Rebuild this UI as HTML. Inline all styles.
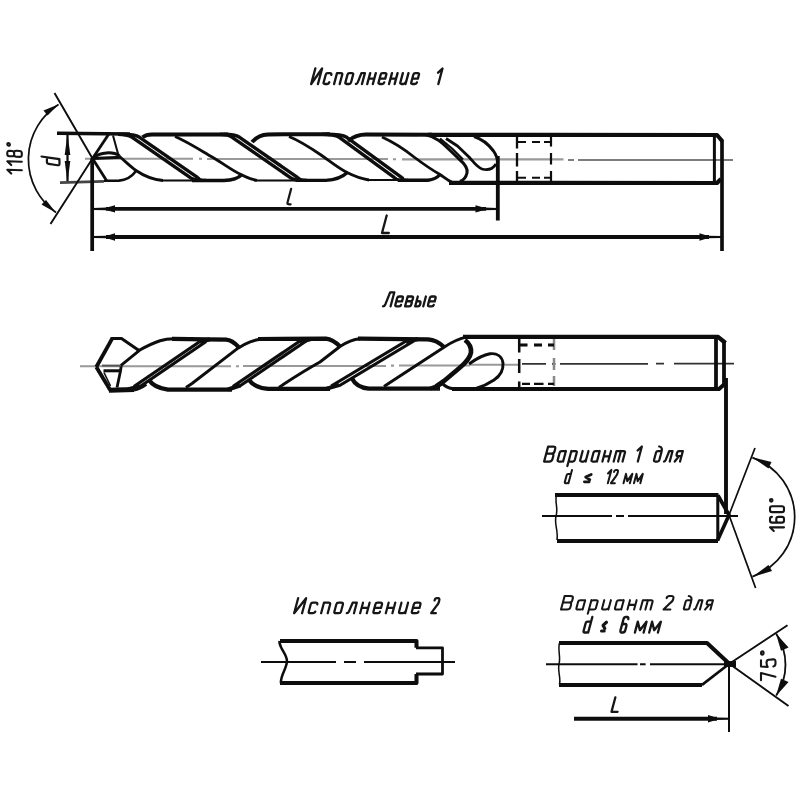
<!DOCTYPE html>
<html><head><meta charset="utf-8">
<style>
html,body{margin:0;padding:0;background:#fff;}
body{width:800px;height:800px;overflow:hidden;font-family:"Liberation Sans",sans-serif;}
svg{display:block;}
.k{stroke:#0a0a0a;fill:none;stroke-linecap:butt;stroke-linejoin:round;}
.t{font-family:"Liberation Sans",sans-serif;font-style:italic;fill:#111;stroke:#111;stroke-width:0.55px;}
</style></head><body>
<svg width="800" height="800" viewBox="0 0 800 800">
<defs><filter id="soft" x="0" y="0" width="800" height="800" filterUnits="userSpaceOnUse"><feGaussianBlur stdDeviation="0.5"/></filter></defs>
<rect width="800" height="800" fill="#fff"/>
<g id="all" class="k" filter="url(#soft)">
<g id="d1">
<path d="M85 158.7H193 M199 158.8h3 M207 159H388 M393 159.2h3 M402 159.4H563.5" stroke-width="2.1" stroke="#999"/>
<path d="M568 160h6 M578 160H733" stroke-width="1.7" stroke="#555"/>
<path d="M57 133.3L130 134" stroke-width="3.4" />
<path d="M60 182.6L104 181.4" stroke-width="2.6" stroke="#444"/>
<path d="M92.5 158.5L108.5 134.5" stroke-width="2.8" />
<path d="M92.5 158.5L106.5 180.5" stroke-width="2.8" />
<path d="M113 135.5L118.5 155.5" stroke-width="2" />
<path d="M94 157.5C100 152 113 151.3 119.5 155.8" stroke-width="3" />
<path d="M93 158.4L121 157.3" stroke-width="3" />
<path d="M119 156C126 162 131 167 136 170.5C144 176 152 179.5 163 180.5" stroke-width="2.8" />
<path d="M104 180.8L119 180.6C127 180 132 176.5 136 171" stroke-width="2.6" />
<path d="M161 180.6H196" stroke-width="2.0" />
<path d="M254 180.4H298" stroke-width="2.0" />
<path d="M366 180H400" stroke-width="2.0" />
<path d="M118.0 134.3C126.0 134.3 129.2 135.5 132.2 137.3L190.0 177.4C194.0 179.4 192.0 180.4 202.0 180.4" stroke-width="3.4" />
<path d="M122.0 134.3C130.0 134.3 136.6 135.5 139.6 137.3L197.4 177.4C201.4 179.4 196.0 180.4 206.0 180.4" stroke-width="3.4" />
<path d="M220.0 134.3C228.0 134.3 229.2 135.5 232.2 137.3L290.0 177.4C294.0 179.4 293.0 180.4 303.0 180.4" stroke-width="3.4" />
<path d="M224.0 134.3C232.0 134.3 236.6 135.5 239.6 137.3L297.4 177.4C301.4 179.4 297.0 180.4 307.0 180.4" stroke-width="3.4" />
<path d="M322.0 134.3C330.0 134.3 336.3 135.5 339.3 137.3L394.1 177.4C398.1 179.4 394.0 180.4 404.0 180.4" stroke-width="3.4" />
<path d="M326.0 134.3C334.0 134.3 343.7 135.5 346.7 137.3L401.5 177.4C405.5 179.4 398.0 180.4 408.0 180.4" stroke-width="3.4" />
<path d="M142.5 137.3C145 135.3 148 134.4 152 134.4L228 134.4" stroke-width="4" />
<path d="M252 142C256 137.5 261 134.5 268 134.4L330 134.2" stroke-width="4" />
<path d="M348 141C353 137 358 134.6 366 134.6L432 134.8" stroke-width="4" />
<path d="M192 180.5L224 180.5C233 180.3 238 178.5 242 174.5" stroke-width="3.4" />
<path d="M296 180.4L326 180.4C336 180 342 177.5 348 172" stroke-width="3.4" />
<path d="M398 180.3L428 180.2C434 179.6 437 178 440 174.5" stroke-width="3.4" />
<path d="M175 136.5C186 141 200 150 213 157.5C224 164 233 171 241 174.5C246 177 250 179.3 257 180.4" stroke-width="2.8" />
<path d="M289 136.5C300 141 310 147.5 321 155C331 162 339 168.5 347 172.5C354 176 360 178.6 369 180" stroke-width="2.8" />
<path d="M382 137C394 142.5 404 149 414 157C424 164.5 432 170 440 174.5C444 177 447 180 452 182.3" stroke-width="2.8" />
<path d="M426 134.8C436 137 442 142.5 448 148.5L459 159C465 164 468 168 467 173C466 177.5 464 180 460 181.5" stroke-width="3" />
<path d="M440 138.5L452 148.5L463 159.5" stroke-width="2.2" />
<path d="M446 138.5L457.5 146L469 157C474 162.5 477 167 482 169C488 170.5 493 169 496 164" stroke-width="2.8" />
<path d="M474 136.5C482 139 489 145 493.5 151C496 154.5 497.5 158 497.8 163" stroke-width="3" />
<path d="M428 134.9L717 135L722.5 141.5" stroke-width="4.2" />
<path d="M449 182.9L717 183L721 179" stroke-width="4.2" />
<path d="M714.4 135V183" stroke-width="3" />
<path d="M722 140V251" stroke-width="3.7" />
<path d="M517 136.5V148.5 M517 153V166.5 M517 171V181" stroke-width="2.3" />
<path d="M551 137V146.5 M551 153V164.5 M551 171V181" stroke-width="2.2" />
<path d="M518 142H526 M532 142H540 M544 142H551" stroke-width="2.1" />
<path d="M518 177.8H526 M532 177.8H540 M544 177.8H551" stroke-width="2.1" />
<path d="M92.2 158V251" stroke-width="3.7" />
<path d="M497.8 156V220.5" stroke-width="3.8" />
<path d="M106 208.9H486" stroke-width="3.9" />
<path d="M106 237H709" stroke-width="3.9" />
<path d="M93.0 207.9L107.0 207.6L115.0 205.20000000000002V212.6L107.0 210.20000000000002L93.0 209.9Z" fill="#0a0a0a" stroke="none"/>
<path d="M497.5 207.9L483.5 207.6L475.5 205.20000000000002V212.6L483.5 210.20000000000002L497.5 209.9Z" fill="#0a0a0a" stroke="none"/>
<path d="M93.0 236.0L107.0 235.7L115.0 233.3V240.7L107.0 238.3L93.0 238.0Z" fill="#0a0a0a" stroke="none"/>
<path d="M721.5 236.0L707.5 235.7L699.5 233.3V240.7L707.5 238.3L721.5 238.0Z" fill="#0a0a0a" stroke="none"/>
<path d="M54.5 93L92.5 158.5L50.5 224" stroke-width="1.9" />
<path d="M58.5 104.5A65 65 0 0 0 56 212.5" stroke-width="1.7" />
<path d="M58.8 104.2L43.5 110.5L47.5 115.5Z" fill="#0a0a0a" stroke="none"/>
<path d="M56 212.8L41.5 204.5L46 200Z" fill="#0a0a0a" stroke="none"/>
<path d="M67.5 135V181" stroke-width="2.2" />
<path d="M67.5 134L64.7 155H70.3Z" fill="#0a0a0a" stroke="none"/>
<path d="M67.5 182L64.7 161H70.3Z" fill="#0a0a0a" stroke="none"/>
</g>
<g id="d2">
<path d="M80 366.3H231 M236 366.2h3 M243 366H386 M391 365.6h3 M399 365.5H470 M470 364.8H519" stroke-width="2.1" stroke="#999"/>
<path d="M522 363.9H546 M552 363.9h3.5 M560 363.8H648 M656 363.7h8 M674 363.6H734" stroke-width="1.8" stroke="#333"/>
<path d="M96.3 367L112 338.8" stroke-width="3.8" />
<path d="M96.3 367L110.5 390.5" stroke-width="3.8" />
<path d="M110.5 338.6H121.5L139 350.5" stroke-width="3" />
<path d="M139.5 350.3L121.3 365.2L120.5 371L117 387.5" stroke-width="2.8" />
<path d="M102 365.6H121" stroke-width="2" stroke="#555"/>
<path d="M103.5 370.8H120.5" stroke-width="3" />
<path d="M104 372.5L110.5 386" stroke-width="1.6" />
<path d="M137 351.5C146 346.5 153 343 160 340.8C164 339.5 168 338.8 174 338.8" stroke-width="3" />
<path d="M172 338.9L226 339.6C231 340 235 343 238.5 347" stroke-width="4.2" />
<path d="M258 339L326 338.6C331 339 336 342.5 340 346.5" stroke-width="4.2" />
<path d="M358 338.6L428 339.3C434 339.8 440 343 444 347" stroke-width="4.2" />
<path d="M109 390.3L134 389.5" stroke-width="5" />
<path d="M134 389.5C139 389 142 387 146 384" stroke-width="4" />
<path d="M149 380C153 386 160 388.6 168 389.6L232 389.6" stroke-width="4.2" />
<path d="M249 380C253 385.5 260 388.2 268 388.9L330 388.9" stroke-width="4.2" />
<path d="M352 378.5C355 384.5 361 388 369 388.7L440 388.7" stroke-width="4.2" />
<path d="M133.9 386.5L199.9 341.5" stroke-width="3.2" />
<path d="M140.1 386.5L206.1 341.5" stroke-width="3.2" />
<path d="M232.9 386.5L299.9 341" stroke-width="3.2" />
<path d="M239.1 386.5L306.1 341" stroke-width="3.2" />
<path d="M331.2 386L406.2 341" stroke-width="3.2" />
<path d="M338.8 386L413.8 341" stroke-width="3.2" />
<path d="M128 389.5L140 386" stroke-width="4" />
<path d="M228 389.5L240 385.5" stroke-width="4" />
<path d="M326 388.8L339 385" stroke-width="4" />
<path d="M200 342L210 339.3" stroke-width="4" />
<path d="M300 342L311 339" stroke-width="4" />
<path d="M406 342L418 339" stroke-width="4" />
<path d="M186 387.5L192 383.5L238 348.2C246 343 254 339.8 262 339" stroke-width="2.9" />
<path d="M279 387.5L284 384Q303 371.500 320 362L340 346.5C347 342 353 339.5 360 338.8" stroke-width="2.9" />
<path d="M384 386.5L390 382.5L444 347.2C452 342 458 339 466 337.2" stroke-width="2.9" />
<path d="M436 386.5L444 381L460 367.5C466 362.5 470 358 471 352.5C471.5 347 469 343 465 340" stroke-width="4.6" />
<path d="M430 388.5L442 384" stroke-width="3.5" />
<path d="M469 364C476 359 483 355 490 353.8C497 353 502 356.5 503 363C503.5 370 500 376 494 380C488 384 483 386.5 476 388.5" stroke-width="2.9" />
<path d="M442.5 383.5C445 386.5 448 388.3 454 388.8" stroke-width="3" />
<path d="M463 336.9L718 336.9L725.5 343" stroke-width="4.2" />
<path d="M452 388.9L719 388.9L724 384.5" stroke-width="4.0" />
<path d="M716 337V389" stroke-width="3.8" />
<path d="M724 341V385" stroke-width="3.8" />
<path d="M726 378V514" stroke-width="3.9" />
<path d="M519.2 338.5V352.5 M519.2 359V373 M519.2 381.5V388" stroke-width="2.5" />
<path d="M554 339V350 M554 358V370 M554 376V386" stroke-width="2.5" stroke="#888"/>
<path d="M520 345H527.5 M534 345H542 M548 345H554" stroke-width="2.8" />
<path d="M522 383.8H530 M534 383.8H543.5 M548 383.8H554" stroke-width="2.2" />
</g>
<g id="v1">
<path d="M542 516H612 M616 516h8 M628 516H738" stroke-width="2.1" />
<path d="M555 495H718.5" stroke-width="4" />
<path d="M557 540.9H718" stroke-width="4" />
<path d="M556.5 495C554.5 502 558.5 508 556 516C554 524 558.5 531 557 540" stroke-width="1.5" />
<path d="M717.8 495V540.5" stroke-width="3" />
<path d="M718 495.5L729 515L717.5 540.5" stroke-width="3.6" />
<path d="M755 448L729 515L755.6 588" stroke-width="1.7" />
<path d="M752.4 457.6A63 63 0 0 1 752.4 576.6" stroke-width="1.7" />
<path d="M752.2 457.2L771.5 462L768.5 468.5Z" fill="#0a0a0a" stroke="none"/>
<path d="M752.2 577L772 571L768.5 565Z" fill="#0a0a0a" stroke="none"/>
</g>
<g id="v2">
<path d="M546 664.2H637.5 M640 664.2h5.6 M650 664.2H730" stroke-width="2" />
<path d="M559 643H707L729 663.5" stroke-width="4" />
<path d="M559 684.9H702" stroke-width="4" />
<path d="M702 684.9L729 664" stroke-width="2.6" />
<path d="M559.5 643C557.5 650 561 657 559 664C557.5 671 561 678 559.5 684.5" stroke-width="1.5" />
<path d="M724 664H736" stroke-width="6" />
<path d="M729 664V732" stroke-width="2" />
<path d="M787.5 625.3L729.3 663.8L788.5 706" stroke-width="1.9" />
<path d="M776.2 633.7A56.3 56.3 0 0 1 776.2 695.6" stroke-width="1.8" />
<path d="M776 633.5L788.5 647.5L781 650.8Z" fill="#0a0a0a" stroke="none"/>
<path d="M776 696L788.5 682L781 678.8Z" fill="#0a0a0a" stroke="none"/>
<path d="M574 718.8H717" stroke-width="3.9" />
<path d="M730.0 717.8L716.0 717.5L708.0 715.0999999999999V722.5L716.0 720.0999999999999L730.0 719.8Z" fill="#0a0a0a" stroke="none"/>
</g>
<g id="i2">
<path d="M261 662H336 M344 662H356 M364 662H455" stroke-width="2.1" />
<path d="M280 641H416.5V647.8" stroke-width="4" />
<path d="M280 683H416.5V674" stroke-width="4" />
<path d="M416 647.8H442.5V674H416" stroke-width="2.8" />
<path d="M279.5 641C278.5 647 287 654 287 661C287 668 280 676 281 683" stroke-width="2.5" />
</g>
<path d="M315.32,68.50 L311.16,84.00 L322.08,68.50 L317.93,84.00 M331.27,74.86 Q331.72,73.15 330.07,73.15 L327.76,73.15 Q326.11,73.15 325.70,74.70 L323.62,82.45 Q323.21,84.00 324.86,84.00 L327.17,84.00 Q328.82,84.00 329.27,82.30 M334.10,84.00 L337.00,73.15 L340.96,73.15 Q342.61,73.15 342.20,74.70 L339.71,84.00 M346.64,84.00 L348.95,84.00 Q350.60,84.00 351.01,82.45 L353.09,74.70 Q353.50,73.15 351.85,73.15 L349.54,73.15 Q347.89,73.15 347.48,74.70 L345.40,82.45 Q344.99,84.00 346.64,84.00 M355.88,84.00 Q357.03,84.00 357.86,82.14 L361.42,73.15 L364.89,73.15 L361.98,84.00 M367.26,84.00 L370.17,73.15 M368.71,78.58 L374.32,78.58 M372.87,84.00 L375.78,73.15 M379.60,78.58 L385.21,78.58 L386.25,74.70 Q386.67,73.15 385.02,73.15 L382.71,73.15 Q381.06,73.15 380.64,74.70 L378.57,82.45 Q378.15,84.00 379.80,84.00 L382.11,84.00 Q383.76,84.00 384.18,82.45 M389.04,84.00 L391.95,73.15 M390.49,78.58 L396.10,78.58 M394.65,84.00 L397.56,73.15 M402.84,73.15 L400.35,82.45 Q399.93,84.00 401.58,84.00 L403.56,84.00 Q405.71,83.38 406.37,80.90 M408.45,73.15 L405.54,84.00 M412.27,78.58 L417.88,78.58 L418.92,74.70 Q419.34,73.15 417.69,73.15 L415.38,73.15 Q413.73,73.15 413.31,74.70 L411.24,82.45 Q410.82,84.00 412.47,84.00 L414.78,84.00 Q416.43,84.00 416.85,82.45" stroke-width="2.33" stroke-linecap="round" stroke-linejoin="round" stroke="#141414"/>
<path d="M438.09,72.69 L442.50,68.50 L438.35,84.00" stroke-width="2.33" stroke-linecap="round" stroke-linejoin="round" stroke="#141414"/>
<path d="M383.00,306.30 Q384.52,306.30 385.42,304.20 L390.12,292.30 L394.33,292.30 L390.58,306.30 M396.27,301.40 L402.00,301.40 L402.94,297.90 Q403.32,296.50 401.63,296.50 L399.27,296.50 Q397.59,296.50 397.21,297.90 L395.34,304.90 Q394.96,306.30 396.65,306.30 L399.00,306.30 Q400.69,306.30 401.06,304.90 M405.07,306.30 L407.70,296.50 L411.74,296.50 Q413.42,296.50 413.05,297.90 L412.52,299.86 Q412.15,301.26 410.46,301.26 L406.42,301.26 M410.46,301.26 Q412.15,301.26 411.77,302.66 L411.17,304.90 Q410.80,306.30 409.11,306.30 L405.07,306.30 M417.80,296.50 L415.18,306.30 L417.87,306.30 Q419.56,306.30 419.93,304.90 L420.53,302.66 Q420.91,301.26 419.22,301.26 L416.53,301.26 M423.27,306.30 L425.89,296.50 M428.96,301.40 L434.69,301.40 L435.62,297.90 Q436.00,296.50 434.32,296.50 L431.96,296.50 Q430.27,296.50 429.90,297.90 L428.02,304.90 Q427.65,306.30 429.33,306.30 L431.69,306.30 Q433.37,306.30 433.75,304.90" stroke-width="2.30" stroke-linecap="round" stroke-linejoin="round" stroke="#141414"/>
<path d="M544.12,461.50 L548.14,446.50 L553.27,446.50 Q555.83,446.50 555.23,448.75 L554.47,451.60 Q553.91,453.70 551.34,453.70 L546.22,453.70 M551.34,453.70 Q553.91,453.70 553.30,455.95 L552.42,459.25 Q551.81,461.50 549.25,461.50 L544.12,461.50 M565.91,451.00 L563.09,461.50 M563.50,460.00 Q563.09,461.50 561.38,461.50 L558.99,461.50 Q557.28,461.50 557.69,460.00 L559.70,452.50 Q560.10,451.00 561.81,451.00 L564.20,451.00 Q565.91,451.00 565.51,452.50 M567.36,466.00 L571.38,451.00 M570.97,452.50 Q571.38,451.00 573.08,451.00 L575.48,451.00 Q577.19,451.00 576.78,452.50 L574.77,460.00 Q574.37,461.50 572.66,461.50 L570.27,461.50 Q568.56,461.50 568.96,460.00 M582.65,451.00 L580.24,460.00 Q579.84,461.50 581.55,461.50 L583.60,461.50 Q585.81,460.90 586.45,458.50 M588.46,451.00 L585.65,461.50 M599.74,451.00 L596.93,461.50 M597.33,460.00 Q596.93,461.50 595.22,461.50 L592.83,461.50 Q591.12,461.50 591.52,460.00 L593.53,452.50 Q593.93,451.00 595.64,451.00 L598.03,451.00 Q599.74,451.00 599.34,452.50 M602.40,461.50 L605.21,451.00 M603.80,456.25 L609.61,456.25 M608.21,461.50 L611.02,451.00 M613.68,461.50 L616.49,451.00 L623.67,451.00 Q625.38,451.00 624.97,452.50 L622.56,461.50 M620.93,451.00 L618.12,461.50" stroke-width="2.25" stroke-linecap="round" stroke-linejoin="round" stroke="#141414"/>
<path d="M637.58,450.55 L641.86,446.50 L637.84,461.50" stroke-width="2.25" stroke-linecap="round" stroke-linejoin="round" stroke="#141414"/>
<path d="M655.19,461.50 L657.38,461.50 Q658.94,461.50 659.35,460.00 L661.36,452.50 Q661.76,451.00 660.19,451.00 L658.00,451.00 Q656.44,451.00 656.04,452.50 L654.03,460.00 Q653.62,461.50 655.19,461.50 M661.36,452.50 Q663.12,447.10 659.21,446.50 M663.95,461.50 Q665.04,461.50 665.84,459.70 L669.27,451.00 L672.55,451.00 L669.74,461.50 M680.06,461.50 L682.88,451.00 L679.12,451.00 Q677.56,451.00 677.15,452.50 L676.59,454.60 Q676.19,456.10 677.75,456.10 L681.51,456.10 M679.01,456.10 L674.74,461.50" stroke-width="2.25" stroke-linecap="round" stroke-linejoin="round" stroke="#141414"/>
<path d="M565.66,483.20 L567.28,483.20 Q568.44,483.20 568.79,481.87 L570.58,475.22 Q570.93,473.89 569.77,473.89 L568.15,473.89 Q566.99,473.89 566.64,475.22 L564.85,481.87 Q564.50,483.20 565.66,483.20 M572.00,469.90 L568.44,483.20" stroke-width="2.00" stroke-linecap="round" stroke-linejoin="round" stroke="#141414"/>
<path d="M591.26,474.42 L585.64,477.08 L589.84,479.74 M584.35,481.87 L589.27,481.87" stroke-width="2.69" stroke-linecap="round" stroke-linejoin="round" stroke="#141414"/>
<path d="M608.00,473.49 L611.40,469.90 L607.83,483.20 M613.97,471.89 Q614.51,469.90 615.97,469.90 L616.94,469.90 Q618.40,469.90 617.87,471.89 L617.40,473.62 Q617.05,474.95 615.65,476.55 L610.95,483.20 L614.84,483.20" stroke-width="2.00" stroke-linecap="round" stroke-linejoin="round" stroke="#141414"/>
<path d="M623.50,483.20 L625.99,473.89 L627.22,481.20 L632.36,473.89 L629.86,483.20 M633.94,483.20 L636.44,473.89 L637.66,481.20 L642.80,473.89 L640.31,483.20" stroke-width="2.00" stroke-linecap="round" stroke-linejoin="round" stroke="#141414"/>
<path d="M561.01,609.60 L564.63,596.10 L570.48,596.10 Q573.40,596.10 572.86,598.12 L572.17,600.69 Q571.66,602.58 568.74,602.58 L562.89,602.58 M568.74,602.58 Q571.66,602.58 571.12,604.61 L570.32,607.58 Q569.78,609.60 566.86,609.60 L561.01,609.60 M585.17,600.15 L582.64,609.60 M583.00,608.25 Q582.64,609.60 580.69,609.60 L577.97,609.60 Q576.02,609.60 576.38,608.25 L578.19,601.50 Q578.55,600.15 580.50,600.15 L583.23,600.15 Q585.17,600.15 584.81,601.50 M587.79,613.65 L591.41,600.15 M591.05,601.50 Q591.41,600.15 593.36,600.15 L596.09,600.15 Q598.04,600.15 597.67,601.50 L595.87,608.25 Q595.50,609.60 593.55,609.60 L590.83,609.60 Q588.88,609.60 589.24,608.25 M604.27,600.15 L602.10,608.25 Q601.74,609.60 603.69,609.60 L606.03,609.60 Q608.51,609.06 609.09,606.90 M610.90,600.15 L608.36,609.60 M623.76,600.15 L621.23,609.60 M621.59,608.25 Q621.23,609.60 619.28,609.60 L616.55,609.60 Q614.60,609.60 614.96,608.25 L616.77,601.50 Q617.13,600.15 619.08,600.15 L621.81,600.15 Q623.76,600.15 623.40,601.50 M627.46,609.60 L629.99,600.15 M628.73,604.88 L635.35,604.88 M634.09,609.60 L636.62,600.15 M640.32,609.60 L642.85,600.15 L651.04,600.15 Q652.99,600.15 652.63,601.50 L650.45,609.60 M647.92,600.15 L645.39,609.60" stroke-width="2.03" stroke-linecap="round" stroke-linejoin="round" stroke="#141414"/>
<path d="M666.59,598.12 Q667.13,596.10 669.70,596.10 L671.42,596.10 Q673.99,596.10 673.44,598.12 L672.97,599.88 Q672.61,601.23 670.46,602.85 L663.51,609.60 L670.37,609.60" stroke-width="2.03" stroke-linecap="round" stroke-linejoin="round" stroke="#141414"/>
<path d="M685.11,609.60 L687.34,609.60 Q688.93,609.60 689.29,608.25 L691.10,601.50 Q691.47,600.15 689.87,600.15 L687.64,600.15 Q686.05,600.15 685.68,601.50 L683.87,608.25 Q683.51,609.60 685.11,609.60 M691.10,601.50 Q692.72,596.64 688.72,596.10 M694.03,609.60 Q695.15,609.60 695.90,607.98 L699.12,600.15 L702.47,600.15 L699.93,609.60 M710.45,609.60 L712.99,600.15 L709.16,600.15 Q707.57,600.15 707.21,601.50 L706.70,603.39 Q706.34,604.74 707.93,604.74 L711.76,604.74 M709.21,604.74 L705.03,609.60" stroke-width="2.03" stroke-linecap="round" stroke-linejoin="round" stroke="#141414"/>
<path d="M584.64,632.50 L586.71,632.50 Q588.18,632.50 588.60,630.95 L590.68,623.20 Q591.09,621.65 589.61,621.65 L587.55,621.65 Q586.07,621.65 585.65,623.20 L583.58,630.95 Q583.16,632.50 584.64,632.50 M592.34,617.00 L588.18,632.50" stroke-width="2.33" stroke-linecap="round" stroke-linejoin="round" stroke="#141414"/>
<path d="M606.47,622.27 L603.07,625.37 L604.81,628.47 M601.58,630.95 L604.15,630.95" stroke-width="3.14" stroke-linecap="round" stroke-linejoin="round" stroke="#141414"/>
<path d="M628.26,619.17 Q628.84,617.00 627.05,617.00 L625.86,617.00 Q624.07,617.00 623.44,619.33 L620.54,630.17 Q619.91,632.50 621.70,632.50 L622.89,632.50 Q624.68,632.50 625.31,630.17 L626.35,626.30 Q626.97,623.98 625.18,623.98 L623.99,623.98 Q622.20,623.98 621.57,626.30" stroke-width="2.33" stroke-linecap="round" stroke-linejoin="round" stroke="#141414"/>
<path d="M634.91,632.50 L637.82,621.65 L639.89,630.17 L646.54,621.65 L643.63,632.50 M649.21,632.50 L652.12,621.65 L654.19,630.17 L660.84,621.65 L657.93,632.50" stroke-width="2.33" stroke-linecap="round" stroke-linejoin="round" stroke="#141414"/>
<path d="M298.14,598.20 L294.12,613.20 L306.11,598.20 L302.09,613.20 M317.28,604.35 Q317.72,602.70 315.78,602.70 L313.06,602.70 Q311.12,602.70 310.72,604.20 L308.71,611.70 Q308.31,613.20 310.25,613.20 L312.97,613.20 Q314.91,613.20 315.35,611.55 M321.13,613.20 L323.94,602.70 L328.60,602.70 Q330.55,602.70 330.14,604.20 L327.73,613.20 M335.89,613.20 L338.61,613.20 Q340.55,613.20 340.95,611.70 L342.96,604.20 Q343.37,602.70 341.42,602.70 L338.70,602.70 Q336.76,602.70 336.36,604.20 L334.35,611.70 Q333.95,613.20 335.89,613.20 M346.77,613.20 Q348.13,613.20 349.00,611.40 L352.69,602.70 L356.77,602.70 L353.96,613.20 M360.17,613.20 L362.99,602.70 M361.58,607.95 L368.18,607.95 M366.78,613.20 L369.59,602.70 M374.40,607.95 L381.01,607.95 L382.01,604.20 Q382.41,602.70 380.47,602.70 L377.75,602.70 Q375.81,602.70 375.41,604.20 L373.40,611.70 Q372.99,613.20 374.94,613.20 L377.66,613.20 Q379.60,613.20 380.00,611.70 M385.81,613.20 L388.63,602.70 M387.22,607.95 L393.83,607.95 M392.42,613.20 L395.23,602.70 M401.45,602.70 L399.04,611.70 Q398.64,613.20 400.58,613.20 L402.91,613.20 Q405.40,612.60 406.04,610.20 M408.05,602.70 L405.24,613.20 M412.86,607.95 L419.47,607.95 L420.47,604.20 Q420.88,602.70 418.93,602.70 L416.21,602.70 Q414.27,602.70 413.87,604.20 L411.86,611.70 Q411.46,613.20 413.40,613.20 L416.12,613.20 Q418.06,613.20 418.46,611.70" stroke-width="2.25" stroke-linecap="round" stroke-linejoin="round" stroke="#141414"/>
<path d="M434.54,600.45 Q435.14,598.20 436.92,598.20 L438.10,598.20 Q439.88,598.20 439.27,600.45 L438.75,602.40 Q438.35,603.90 436.68,605.70 L431.12,613.20 L435.86,613.20" stroke-width="2.25" stroke-linecap="round" stroke-linejoin="round" stroke="#141414"/>
<path d="M291.15,188.80 L287.50,202.44 Q287.00,204.30 289.42,204.30 L290.63,204.30" stroke-width="2.20" stroke-linecap="round" stroke-linejoin="round" stroke="#141414"/>
<path d="M386.69,215.50 L382.00,233.00 L388.81,233.00" stroke-width="2.30" stroke-linecap="round" stroke-linejoin="round" stroke="#141414"/>
<path d="M615.39,697.30 L611.50,711.80 L617.61,711.80" stroke-width="2.30" stroke-linecap="round" stroke-linejoin="round" stroke="#141414"/>
<path d="M0.42,-10.58 L4.31,-14.50 L3.73,0.00 M8.92,-10.58 L12.81,-14.50 L12.23,0.00 M19.54,-7.68 Q17.61,-7.68 17.69,-9.86 L17.79,-12.32 Q17.88,-14.50 19.82,-14.50 L21.31,-14.50 Q23.25,-14.50 23.16,-12.32 L23.06,-9.86 Q22.97,-7.68 21.03,-7.68 L19.54,-7.68 Q17.31,-7.68 17.22,-5.51 L17.09,-2.17 Q17.00,0.00 19.24,0.00 L20.73,0.00 Q22.96,0.00 23.05,-2.17 L23.18,-5.51 Q23.27,-7.68 21.03,-7.68 M29.55,-11.89 L29.55,-11.89 Q30.90,-11.89 30.95,-13.19 L30.95,-13.19 Q31.00,-14.50 29.66,-14.50 L29.66,-14.50 Q28.32,-14.50 28.26,-13.19 L28.26,-13.19 Q28.21,-11.89 29.55,-11.89" stroke-width="2.10" stroke-linecap="round" stroke-linejoin="round" stroke="#141414" transform="translate(21.8,174) rotate(-90)"/>
<path d="M1.85,0.00 L4.45,0.00 Q6.30,0.00 6.57,-1.80 L7.92,-10.80 Q8.19,-12.60 6.34,-12.60 L3.74,-12.60 Q1.89,-12.60 1.62,-10.80 L0.27,-1.80 Q0.00,0.00 1.85,0.00 M9.00,-18.00 L6.30,0.00" stroke-width="2.20" stroke-linecap="round" stroke-linejoin="round" stroke="#141414" transform="translate(59.5,165.5) rotate(-90)"/>
<path d="M0.00,-10.22 L3.65,-14.00 L3.65,0.00 M14.17,-12.04 Q14.17,-14.00 11.98,-14.00 L10.52,-14.00 Q8.33,-14.00 8.33,-11.90 L8.33,-2.10 Q8.33,0.00 10.52,0.00 L11.98,0.00 Q14.17,0.00 14.17,-2.10 L14.17,-5.60 Q14.17,-7.70 11.98,-7.70 L10.52,-7.70 Q8.33,-7.70 8.33,-5.60 M21.04,0.00 L22.50,0.00 Q24.69,0.00 24.69,-2.10 L24.69,-11.90 Q24.69,-14.00 22.50,-14.00 L21.04,-14.00 Q18.85,-14.00 18.85,-11.90 L18.85,-2.10 Q18.85,0.00 21.04,0.00 M30.68,-11.48 L30.68,-11.48 Q32.00,-11.48 32.00,-12.74 L32.00,-12.74 Q32.00,-14.00 30.68,-14.00 L30.68,-14.00 Q29.37,-14.00 29.37,-12.74 L29.37,-12.74 Q29.37,-11.48 30.68,-11.48" stroke-width="2.10" stroke-linecap="round" stroke-linejoin="round" stroke="#141414" transform="translate(784,531) rotate(-90)"/>
<path d="M-1.16,-14.50 L5.92,-14.50 L2.30,0.00 M18.65,-14.50 L12.46,-14.50 L12.11,-7.83 Q13.79,-8.99 16.44,-8.99 Q19.10,-8.99 19.28,-6.67 L19.64,-2.17 Q19.81,0.00 17.16,0.00 L15.39,0.00 Q12.74,0.00 12.56,-2.17 M26.12,-11.89 L26.12,-11.89 Q27.71,-11.89 27.60,-13.19 L27.60,-13.19 Q27.50,-14.50 25.91,-14.50 L25.91,-14.50 Q24.32,-14.50 24.42,-13.19 L24.42,-13.19 Q24.52,-11.89 26.12,-11.89" stroke-width="2.10" stroke-linecap="round" stroke-linejoin="round" stroke="#141414" transform="translate(775.5,679) rotate(-90)"/>
</g>
</svg>
</body></html>
